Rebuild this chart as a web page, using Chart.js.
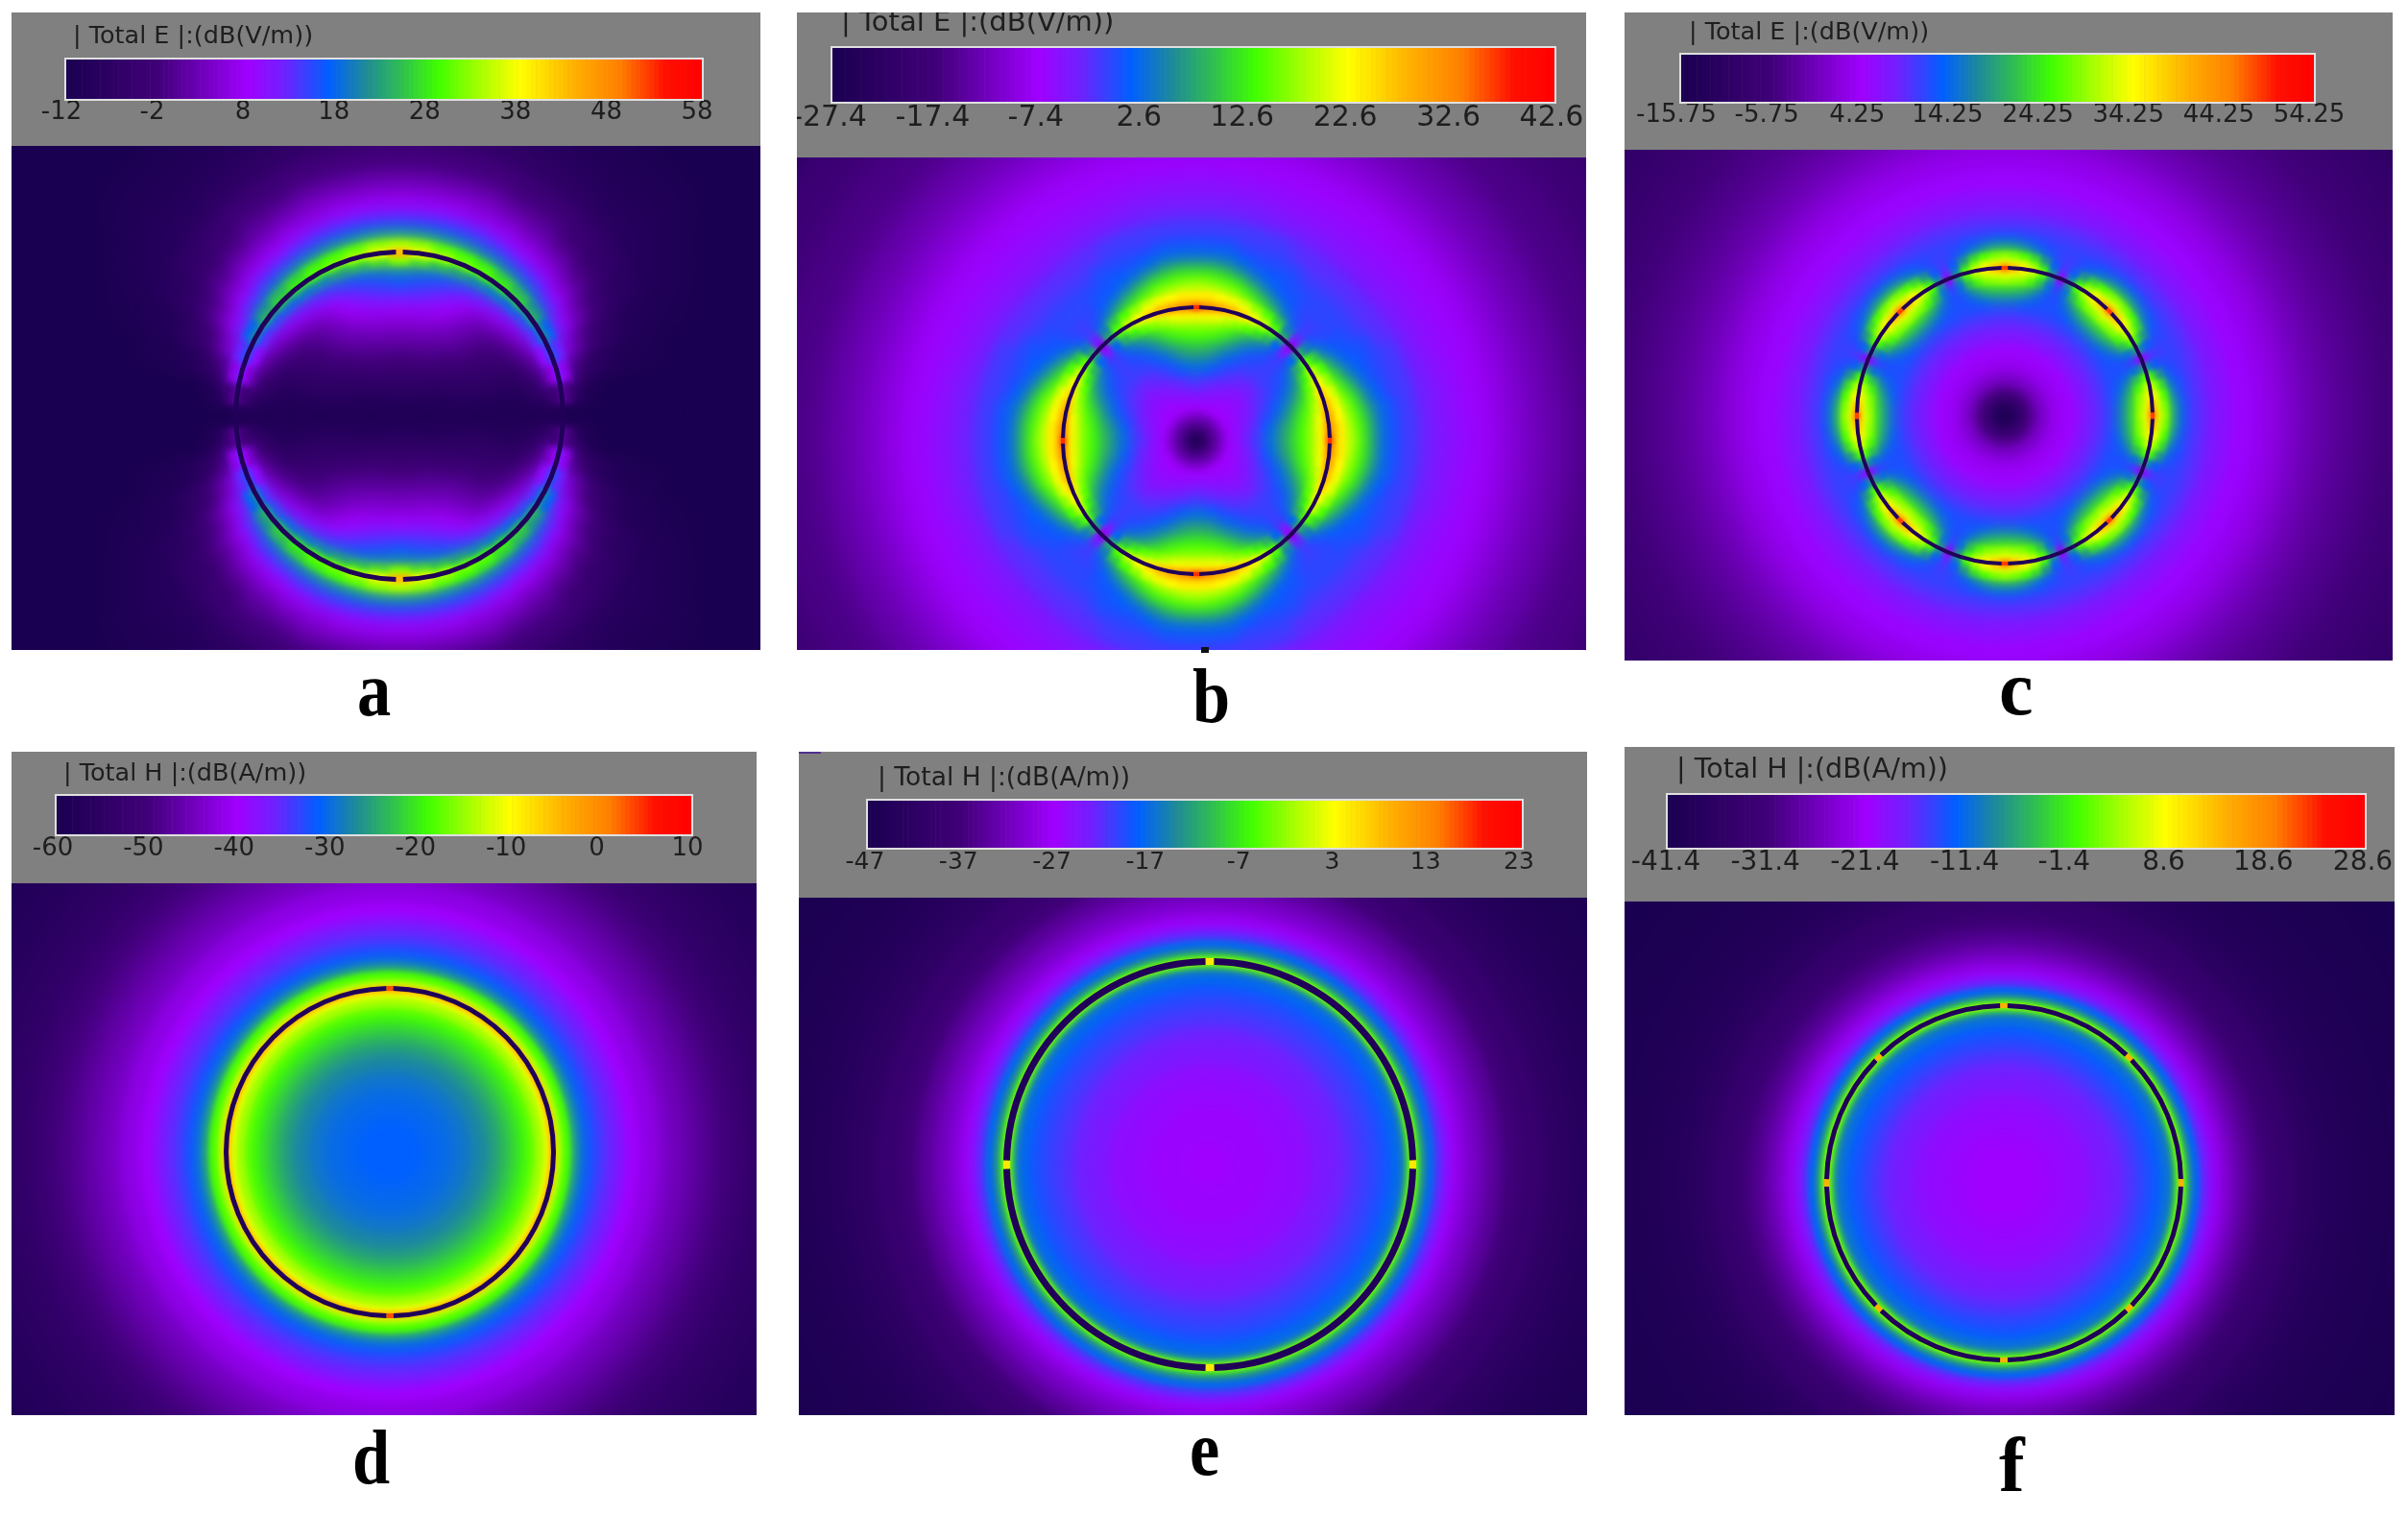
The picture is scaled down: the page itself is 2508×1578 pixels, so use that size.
<!DOCTYPE html>
<html>
<head>
<meta charset="utf-8">
<style>
  html, body { margin: 0; padding: 0; background: #fff; }
  #page { position: relative; width: 2508px; height: 1578px; overflow: hidden; }
  .band, .heat { position: absolute; overflow: hidden; }
  .band { background: #808080; }
  .band canvas { filter: blur(0.7px); }
  .heat { background: #1a0050; }
  .heat canvas { position: absolute; }
  .letter { position: absolute; font: bold 80px/1 "Liberation Serif", serif; color: #000; transform-origin: left center; }
  .speck { position: absolute; }
</style>
</head>
<body>
<div id="page"></div>
<script src="https://cdn.jsdelivr.net/npm/chart.js@4"></script>
<script>
"use strict";

// colour bar position (0-70 above the bottom of the range) -> colour
const mapStops = [0, 10, 20, 24, 29, 33, 37, 41, 46, 50, 56, 61, 66, 70];
const mapColors = [
  [26, 0, 80], [64, 0, 120], [160, 0, 255], [112, 32, 255], [0, 96, 255], [31, 138, 152], [48, 192, 80],
  [64, 255, 0], [176, 255, 0], [255, 255, 0], [255, 176, 0], [255, 128, 0], [255, 16, 0], [255, 0, 0],
];

const titleE = "| Total E |:(dB(V/m))";
const titleH = "| Total H |:(dB(A/m))";

const ticksA = ["-12", "-2", "8", "18", "28", "38", "48", "58"];
const ticksB = ["-27.4", "-17.4", "-7.4", "2.6", "12.6", "22.6", "32.6", "42.6"];
const ticksC = ["-15.75", "-5.75", "4.25", "14.25", "24.25", "34.25", "44.25", "54.25"];
const ticksD = ["-60", "-50", "-40", "-30", "-20", "-10", "0", "10"];
const ticksE = ["-47", "-37", "-27", "-17", "-7", "3", "13", "23"];
const ticksF = ["-41.4", "-31.4", "-21.4", "-11.4", "-1.4", "8.6", "18.6", "28.6"];

// outer edge of each table row, as radius / ring radius
const rowEdges = [0.1, 0.2, 0.3, 0.4, 0.5, 0.6, 0.68, 0.75, 0.81, 0.86, 0.9, 0.93, 0.96, 0.98, 1, 1.02, 1.04, 1.07, 1.1, 1.14,
  1.18, 1.23, 1.29, 1.36, 1.44, 1.53, 1.63, 1.75, 1.9, 2.05, 2.25, 2.5, 2.8, 3.2, 3.7];

// field level: one row per radius, one column per angle from the top of the ring
const fieldA = [
  [2, 2, 2, 2, 2, 2, 1, 1, 1, 1, 1, 1, 1],
  [5, 4, 4, 4, 4, 4, 3, 3, 2, 2, 2, 1, 1],
  [7, 7, 7, 7, 6, 6, 5, 4, 3, 3, 2, 2, 1],
  [10, 10, 10, 10, 9, 8, 7, 6, 5, 4, 3, 2, 1],
  [13, 13, 13, 12, 12, 10, 9, 8, 6, 5, 4, 2, 1],
  [16, 16, 16, 15, 14, 13, 11, 9, 7, 6, 4, 2, 1],
  [20, 19, 19, 18, 16, 14, 12, 10, 8, 6, 4, 2, 1],
  [23, 23, 22, 20, 18, 15, 13, 11, 9, 6, 4, 2, 1],
  [27, 26, 25, 23, 20, 17, 15, 13, 11, 8, 5, 3, 1],
  [29, 28, 27, 25, 23, 21, 19, 17, 14, 11, 7, 4, 1],
  [31, 30, 29, 28, 26, 24, 22, 19, 16, 13, 9, 5, 1],
  [35, 33, 31, 30, 28, 27, 25, 23, 20, 16, 12, 6, 1],
  [42, 38, 35, 33, 31, 30, 28, 26, 24, 20, 15, 8, 1],
  [48, 44, 41, 38, 36, 34, 32, 30, 28, 24, 19, 10, 2],
  [58, 50, 46, 43, 41, 39, 37, 34, 31, 26, 20, 10, 2],
  [58, 52, 47, 45, 43, 41, 39, 37, 34, 30, 25, 15, 2],
  [50, 48, 45, 43, 42, 40, 38, 36, 32, 27, 21, 12, 1],
  [45, 44, 42, 41, 40, 38, 36, 33, 29, 24, 18, 9, 0],
  [40, 39, 38, 37, 36, 35, 33, 30, 25, 20, 13, 5, 0],
  [33, 33, 32, 32, 31, 30, 29, 27, 23, 17, 10, 3, 0],
  [29, 29, 29, 28, 28, 27, 26, 24, 20, 15, 8, 2, 0],
  [26, 26, 26, 26, 25, 24, 23, 20, 17, 12, 6, 1, 0],
  [22, 22, 22, 22, 21, 20, 19, 17, 14, 9, 4, 0, 0],
  [19, 19, 19, 18, 18, 17, 16, 14, 11, 7, 3, 0, 0],
  [16, 16, 16, 16, 15, 14, 13, 11, 8, 5, 2, 0, 0],
  [13, 13, 13, 13, 12, 12, 10, 8, 6, 3, 1, 0, 0],
  [10, 10, 10, 10, 9, 9, 8, 6, 4, 2, 1, 0, 0],
  [7, 7, 7, 7, 7, 6, 5, 4, 3, 1, 0, 0, 0],
  [5, 5, 5, 5, 4, 4, 3, 3, 2, 1, 0, 0, 0],
  [3, 3, 3, 3, 3, 2, 2, 2, 1, 0, 0, 0, 0],
  [2, 2, 2, 2, 2, 1, 1, 1, 0, 0, 0, 0, 0],
  [1, 1, 1, 1, 1, 1, 0, 0, 0, 0, 0, 0, 0],
  [0, 0, 0, 0, 0, 0, 0, 0, 0, 0, 0, 0, 0],
  [0, 0, 0, 0, 0, 0, 0, 0, 0, 0, 0, 0, 0],
];

const fieldB = [
  [3, 3, 3, 3, 3, 3, 3, 3, 3, 3],
  [13, 13, 13, 13, 13, 13, 13, 13, 13, 13],
  [20, 20, 20, 20, 20, 20, 20, 20, 20, 20],
  [23, 23, 22, 22, 22, 22, 21, 21, 21, 21],
  [26, 26, 25, 25, 24, 24, 23, 23, 22, 22],
  [30, 30, 29, 28, 27, 26, 25, 25, 24, 24],
  [34, 34, 33, 31, 29, 28, 27, 26, 26, 26],
  [38, 37, 36, 34, 32, 30, 28, 27, 27, 26],
  [41, 41, 40, 38, 35, 32, 30, 28, 27, 26],
  [43, 43, 42, 41, 38, 35, 32, 30, 28, 26],
  [46, 46, 45, 43, 41, 38, 35, 32, 28, 25],
  [48, 48, 47, 45, 43, 41, 38, 35, 29, 24],
  [51, 51, 50, 48, 46, 44, 41, 37, 30, 23],
  [56, 55, 54, 52, 50, 47, 44, 40, 33, 21],
  [64, 60, 58, 56, 54, 51, 48, 43, 36, 18],
  [64, 60, 58, 56, 54, 51, 48, 43, 36, 18],
  [58, 57, 56, 55, 53, 50, 47, 42, 35, 22],
  [54, 54, 53, 52, 50, 47, 44, 40, 33, 24],
  [51, 51, 50, 49, 47, 44, 41, 37, 31, 25],
  [49, 49, 48, 46, 44, 41, 38, 34, 29, 26],
  [46, 46, 45, 44, 41, 38, 35, 31, 28, 26],
  [44, 43, 42, 41, 38, 35, 32, 29, 27, 26],
  [40, 40, 39, 37, 34, 31, 29, 28, 27, 27],
  [35, 35, 34, 32, 30, 29, 28, 28, 27, 27],
  [30, 30, 30, 29, 28, 28, 28, 27, 27, 27],
  [28, 28, 28, 27, 27, 27, 27, 26, 26, 26],
  [26, 26, 26, 26, 26, 26, 25, 25, 25, 25],
  [24, 24, 24, 24, 24, 24, 24, 24, 23, 23],
  [23, 23, 23, 23, 22, 22, 22, 22, 22, 22],
  [21.5, 21, 21, 21, 21, 21, 21, 21, 21, 21],
  [20, 20, 20, 20, 20, 20, 20, 20, 20, 20],
  [17, 17, 17, 17, 17, 17, 17, 17, 17, 17],
  [14, 14, 14, 14, 14, 14, 14, 14, 14, 14],
  [11, 11, 11, 11, 11, 11, 11, 11, 11, 11],
  [9, 9, 9, 9, 9, 9, 9, 9, 9, 9],
];

const fieldC = [
  [2, 2, 2, 2, 2, 2, 2],
  [10, 10, 10, 10, 10, 10, 10],
  [16, 16, 16, 16, 16, 16, 16],
  [19, 19, 19, 19, 19, 19, 19],
  [20.5, 20.5, 20.5, 20.5, 20.5, 20.5, 20.5],
  [23, 23, 23, 23, 23, 23, 23],
  [25, 25, 25, 25, 25, 25, 25],
  [27, 27, 27, 27, 27, 27, 27],
  [31, 31, 30, 29, 28, 28, 28],
  [36, 36, 35, 33, 30, 28, 27],
  [41, 40, 39, 37, 33, 29, 27],
  [45, 44, 43, 40, 36, 30, 27],
  [48, 47, 46, 43, 38, 31, 26],
  [52, 51, 49, 46, 41, 33, 24],
  [62, 56, 52, 48, 43, 34, 19],
  [62, 56, 52, 48, 43, 34, 19],
  [54, 52, 50, 46, 41, 32, 23],
  [48, 47, 46, 43, 37, 30, 25],
  [44, 43, 41, 38, 33, 28, 26],
  [39, 38, 36, 33, 29, 27, 26],
  [33, 33, 31, 29, 28, 27, 26],
  [29, 29, 28, 28, 27, 27, 27],
  [26, 26, 26, 26, 26, 26, 26],
  [25, 25, 25, 25, 25, 25, 25],
  [23, 23, 23, 23, 23, 23, 23],
  [22, 22, 22, 22, 22, 22, 22],
  [20.5, 20.5, 20.5, 20.5, 20.5, 20.5, 20.5],
  [19.5, 19.5, 19.5, 19.5, 19.5, 19.5, 19.5],
  [18, 18, 18, 18, 18, 18, 18],
  [15.5, 15.5, 15.5, 15.5, 15.5, 15.5, 15.5],
  [13.5, 13.5, 13.5, 13.5, 13.5, 13.5, 13.5],
  [11.5, 11.5, 11.5, 11.5, 11.5, 11.5, 11.5],
  [9.5, 9.5, 9.5, 9.5, 9.5, 9.5, 9.5],
  [7, 7, 7, 7, 7, 7, 7],
];

// the H panels are round, one column is enough
const fieldD = [[29], [29], [29.5], [30], [31], [32.5], [34.5], [37], [39], [41], [43], [45], [47], [50], [58], [56], [48], [44], [41], [36],
  [31], [29], [27], [25], [23], [20], [18], [16], [14], [11], [8], [5], [3], [1]];
const fieldE = [[20], [20.5], [20.5], [21], [21.5], [23], [24], [25.5], [26.5], [27.5], [28.5], [29.5], [31], [37], [44], [45], [39], [33], [29.5], [26],
  [22], [19.5], [17], [15], [12.5], [10], [7.5], [5.5], [3.5], [2], [1], [0.5]];
const fieldF = [[20], [20], [20.5], [21], [21.5], [23], [24], [25.5], [27], [28], [29], [30], [32], [38], [44], [45], [39], [33], [29], [25],
  [21.5], [19], [16.5], [14], [11.5], [9], [7], [5], [3], [2], [1], [0.5], [0]];

// angles of the feed gaps in each ring, degrees clockwise from the top
const gapsA = [0, 180];
const gapsB = [0, 90, 180, 270];
const gapsC = [0, 45, 90, 135, 180, 225, 270, 315];
const gapsD = [0, 180];
const gapsE = [0, 90, 180, 270];
const gapsF = [0, 45, 90, 135, 180, 225, 270, 315];

// soft layer for the far field, sharper ones towards the ring: [first row, last row, blur px]
const layersPlain = [[0, 99, 16], [0, 26, 6], [11, 18, 2.5]];
const layersA = [[0, 99, 16], [0, 26, 8], [12, 17, 3]];

const panels = [
  { letter: "a", letterX: 372, letterBase: 745, squeeze: 0.88, title: titleE, ticks: ticksA, field: fieldA, gaps: gapsA, gapColor: "#ffc000", layers: layersA,
    band: [12, 13, 792, 152], bottom: 677, bar: [69, 62, 731, 103], ring: [416, 433, 170, 5], titleX: 76, titleBase: 45, titleSize: 25.5, tickSize: 26, tickMid: 117, tickShift: -5 },
  { letter: "b", letterX: 1242, letterBase: 752, squeeze: 0.88, title: titleE, ticks: ticksB, field: fieldB, gaps: gapsB, gapColor: "#ff3000", layers: layersPlain,
    band: [830, 13, 1652, 164], bottom: 677, bar: [867, 50, 1619, 106], ring: [1246, 459, 139, 4], titleX: 876, titleBase: 32, titleSize: 29, tickSize: 30, tickMid: 123, tickShift: -3 },
  { letter: "c", letterX: 2082, letterBase: 744, squeeze: 1, title: titleE, ticks: ticksC, field: fieldC, gaps: gapsC, gapColor: "#ff4000", layers: layersPlain,
    band: [1692, 13, 2492, 156], bottom: 688, bar: [1751, 57, 2410, 106], ring: [2088, 433, 154, 4], titleX: 1759, titleBase: 41, titleSize: 25.5, tickSize: 26, tickMid: 120, tickShift: -5 },
  { letter: "d", letterX: 367, letterBase: 1545, squeeze: 0.88, title: titleH, ticks: ticksD, field: fieldD, gaps: gapsD, gapColor: "#ff5000", layers: layersPlain,
    band: [12, 783, 788, 920], bottom: 1474, bar: [59, 829, 720, 869], ring: [406, 1200, 170, 5], titleX: 66, titleBase: 813, titleSize: 25.5, tickSize: 26, tickMid: 884, tickShift: -4 },
  { letter: "e", letterX: 1239, letterBase: 1536, squeeze: 0.88, title: titleH, ticks: ticksE, field: fieldE, gaps: gapsE, gapColor: "#ffe800", layers: layersPlain,
    band: [832, 783, 1653, 935], bottom: 1474, bar: [904, 834, 1585, 883], ring: [1260, 1213, 211, 7], titleX: 914, titleBase: 818, titleSize: 26.5, tickSize: 25, tickMid: 898, tickShift: -3 },
  { letter: "f", letterX: 2082, letterBase: 1553, squeeze: 1, title: titleH, ticks: ticksF, field: fieldF, gaps: gapsF, gapColor: "#ffb000", layers: layersPlain,
    band: [1692, 778, 2494, 939], bottom: 1474, bar: [1737, 828, 2463, 883], ring: [2087, 1232, 184, 5], titleX: 1746, titleBase: 810, titleSize: 28.5, tickSize: 28, tickMid: 899, tickShift: -2 },
];

const page = document.getElementById("page");
const textColor = "#1e1e1e";
const ringColor = "#200058";

function colorAt(v) {
  let i = 0;
  while (i < mapStops.length - 2 && v > mapStops[i + 1]) i++;
  const t = Math.min(Math.max((v - mapStops[i]) / (mapStops[i + 1] - mapStops[i]), 0), 1);
  const c = mapColors[i].map((a, k) => Math.round(a + (mapColors[i + 1][k] - a) * t));
  return `rgb(${c[0]},${c[1]},${c[2]})`;
}

function addBox(parent, cls, x0, y0, x1, y1) {
  const el = document.createElement("div");
  el.className = cls;
  el.style.left = x0 + "px";
  el.style.top = y0 + "px";
  el.style.width = x1 - x0 + "px";
  el.style.height = y1 - y0 + "px";
  parent.appendChild(el);
  return el;
}

function addCanvas(parent, left, top, w, h) {
  const canvas = document.createElement("canvas");
  canvas.width = w;
  canvas.height = h;
  canvas.style.left = left + "px";
  canvas.style.top = top + "px";
  canvas.style.width = w + "px";
  canvas.style.height = h + "px";
  parent.appendChild(canvas);
  return canvas;
}

// one doughnut ring per table row, one arc per angle; rows are mirrored round the circle
function drawFieldLayer(p, box, [firstRow, lastRow, blur]) {
  const [x0, , , y0] = p.band;
  const [cx, cy, radius] = p.ring;
  const rows = p.field.length;
  const cols = p.field[0].length;
  const fold = cols === 1 ? 1 : (cols - 1) * 2;
  const sectors = { 13: 48, 10: 72, 7: 96, 1: 1 }[cols];
  const outer = Math.ceil(rowEdges[rows - 1] * radius);

  const datasets = [];
  for (let r = rows - 1; r >= 0; r--) {
    const shown = r >= firstRow && r <= lastRow;
    const colors = [];
    for (let s = 0; s < sectors; s++) {
      const j = s % fold;
      const col = j < cols ? j : fold - j;
      colors.push(shown ? colorAt(p.field[r][col]) : "rgba(0,0,0,0)");
    }
    datasets.push({
      data: colors.map(() => 1),
      backgroundColor: colors,
      borderColor: colors,
      borderWidth: sectors > 1 && shown ? 1 : 0,
      weight: rowEdges[r] - (r > 0 ? rowEdges[r - 1] : 0),
    });
  }

  const canvas = addCanvas(box, cx - x0 - outer, cy - y0 - outer, outer * 2, outer * 2);
  canvas.style.filter = `blur(${blur}px)`;
  new Chart(canvas.getContext("2d"), {
    type: "doughnut",
    data: { labels: datasets[0].data.map((_, i) => i), datasets },
    options: {
      responsive: false,
      animation: false,
      devicePixelRatio: 1,
      events: [],
      cutout: 0,
      rotation: -180 / sectors,
      plugins: { legend: { display: false }, tooltip: { enabled: false } },
    },
  });
}

function drawRing(p, box) {
  const [cx, cy, radius, width] = p.ring;
  const gapDeg = 2.4;
  const values = [];
  const colors = [];
  p.gaps.forEach((a, i) => {
    const next = i + 1 < p.gaps.length ? p.gaps[i + 1] : p.gaps[0] + 360;
    values.push(gapDeg, next - a - gapDeg);
    colors.push(p.gapColor, ringColor);
  });
  const outer = Math.ceil(radius + width / 2) + 3;
  const canvas = addCanvas(box, cx - p.band[0] - outer, cy - p.band[3] - outer, outer * 2, outer * 2);
  canvas.style.filter = "blur(0.6px)";
  new Chart(canvas.getContext("2d"), {
    type: "doughnut",
    data: { labels: values.map((_, i) => i), datasets: [{ data: values, backgroundColor: colors, borderWidth: 0 }] },
    options: {
      responsive: false,
      animation: false,
      devicePixelRatio: 1,
      events: [],
      cutout: outer - 3 - width,
      rotation: -gapDeg / 2,
      layout: { padding: 3 },
      plugins: { legend: { display: false }, tooltip: { enabled: false } },
    },
  });
}

const bandDecor = {
  id: "bandDecor",
  afterDraw(chart, args, opts) {
    const { ctx, chartArea: a } = chart;
    ctx.save();
    ctx.strokeStyle = "#e0e0e0";
    ctx.lineWidth = 2;
    ctx.strokeRect(a.left - 1, a.top - 1, a.right - a.left + 2, a.bottom - a.top + 2);
    ctx.fillStyle = textColor;
    ctx.font = `${opts.size}px "DejaVu Sans"`;
    ctx.textBaseline = "alphabetic";
    ctx.fillText(opts.text, opts.x, opts.y);
    ctx.restore();
  },
};

function drawBand(p) {
  const [x0, y0, x1, y1] = p.band;
  const box = addBox(page, "band", x0, y0, x1, y1);
  const [bx0, by0, bx1, by1] = p.bar;
  const canvas = addCanvas(box, 0, 0, x1 - x0, y1 - y0);
  const steps = 140;
  const labels = [];
  const colors = [];
  for (let i = 0; i <= steps; i++) {
    labels.push(i % 20 === 0 ? p.ticks[i / 20] : "");
    colors.push(colorAt(i / 2));
  }
  new Chart(canvas.getContext("2d"), {
    type: "bar",
    data: {
      labels,
      datasets: [{ data: labels.map(() => 1), backgroundColor: colors, borderWidth: 0, barPercentage: 1.1, categoryPercentage: 1 }],
    },
    options: {
      responsive: false,
      animation: false,
      devicePixelRatio: 1,
      events: [],
      layout: { padding: { left: bx0 - x0, right: x1 - bx1, top: by0 - y0, bottom: 0 } },
      scales: {
        x: {
          offset: false,
          grid: { display: false, drawTicks: false },
          border: { display: false },
          ticks: {
            autoSkip: false,
            maxRotation: 0,
            minRotation: 0,
            color: textColor,
            labelOffset: p.tickShift,
            padding: p.tickMid - by1 - p.tickSize / 2,
            font: { family: "DejaVu Sans", size: p.tickSize, lineHeight: 1 },
          },
          afterFit(scale) {
            scale.height = y1 - by1;
            scale.paddingLeft = 0;
            scale.paddingRight = 0;
          },
        },
        y: { display: false, min: 0, max: 1 },
      },
      plugins: {
        legend: { display: false },
        tooltip: { enabled: false },
        bandDecor: { text: p.title, x: p.titleX - x0, y: p.titleBase - y0, size: p.titleSize },
      },
    },
    plugins: [bandDecor],
  });
}

function drawLetter(p) {
  const el = document.createElement("div");
  el.className = "letter";
  el.textContent = p.letter;
  el.style.left = p.letterX + "px";
  el.style.top = p.letterBase - 67 + "px";
  el.style.transform = `scaleX(${p.squeeze})`;
  page.appendChild(el);
}

panels.forEach((p) => {
  drawLetter(p);
  const box = addBox(page, "heat", p.band[0], p.band[3], p.band[2], p.bottom);
  p.layers.forEach((layer) => drawFieldLayer(p, box, layer));
  drawRing(p, box);
  drawBand(p);
});

// stray specks from the source image
const speckB = addBox(page, "speck", 1251, 674, 1259, 680);
speckB.style.background = "#101018";
const speckE = addBox(page, "speck", 832, 783, 855, 785);
speckE.style.background = "#503090";
</script>
</body>
</html>
